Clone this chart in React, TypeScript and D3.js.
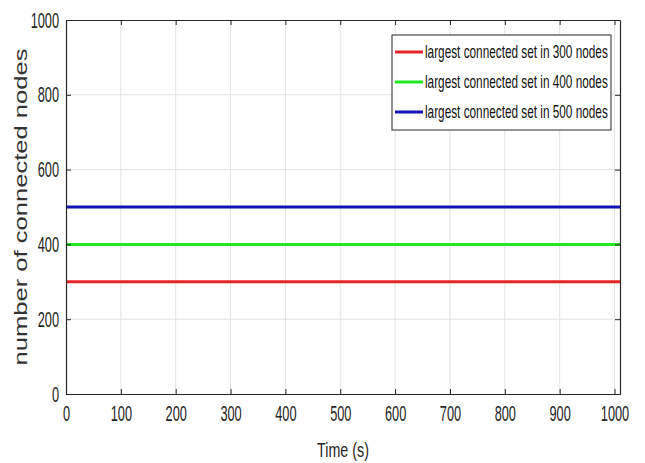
import { useEffect, useRef } from "react";
import * as d3 from "d3";

const times = [0, 1010];
const xTicks = [0, 100, 200, 300, 400, 500, 600, 700, 800, 900, 1000];
const yTicks = [0, 200, 400, 600, 800, 1000];
const seriesNames = [
  "largest connected set in 300 nodes",
  "largest connected set in 400 nodes",
  "largest connected set in 500 nodes",
];
const seriesValues = [300, 400, 500];
const seriesColors = ["#e8242a", "#22e822", "#1414b4"];

const FONT = "'Liberation Sans', Arial, sans-serif";
const SQ = 0.58; // the picture is narrow: squeeze text horizontally

const App = () => {
  const ref = useRef<SVGSVGElement | null>(null);

  useEffect(() => {
    if (!ref.current) return;
    const width = 645;
    const height = 463;
    const margin = { top: 20, right: 25, bottom: 69, left: 66 };

    const svg = d3.select(ref.current);
    svg.selectAll("*").remove();

    const x = d3
      .scaleLinear()
      .domain([times[0], times[1]])
      .range([margin.left, width - margin.right]);
    const y = d3
      .scaleLinear()
      .domain([0, 1000])
      .range([height - margin.bottom, margin.top]);

    svg.append("rect").attr("width", width).attr("height", height).attr("fill", "white");

    // grid
    const grid = svg.append("g").attr("stroke", "#e3e3e3").attr("stroke-width", 1);
    xTicks.slice(1).forEach((t) => {
      grid.append("line").attr("x1", x(t)).attr("x2", x(t)).attr("y1", y(0)).attr("y2", y(1000));
    });
    yTicks.slice(1, -1).forEach((t) => {
      grid.append("line").attr("x1", x(0)).attr("x2", x(1010)).attr("y1", y(t)).attr("y2", y(t));
    });

    // lines
    seriesValues.forEach((v, i) => {
      const line = d3
        .line<number>()
        .x((d) => x(d))
        .y(() => y(v));
      svg
        .append("path")
        .attr("d", line(times))
        .attr("fill", "none")
        .attr("stroke", seriesColors[i])
        .attr("stroke-width", 3);
    });

    // axes box
    const axisColor = "#262626";
    const fmt = d3.format("d");
    const bottom = svg
      .append("g")
      .attr("transform", `translate(0,${y(0)})`)
      .call(d3.axisBottom(x).tickValues(xTicks).tickFormat(fmt).tickSizeInner(-5).tickSizeOuter(0).tickPadding(11));
    const top = svg
      .append("g")
      .attr("transform", `translate(0,${y(1000)})`)
      .call(d3.axisTop(x).tickValues(xTicks).tickSizeInner(-5).tickSizeOuter(0).tickFormat(() => ""));
    const left = svg
      .append("g")
      .attr("transform", `translate(${x(0)},0)`)
      .call(d3.axisLeft(y).tickValues(yTicks).tickFormat(fmt).tickSizeInner(-5).tickSizeOuter(0).tickPadding(7));
    const right = svg
      .append("g")
      .attr("transform", `translate(${x(1010)},0)`)
      .call(d3.axisRight(y).tickValues(yTicks).tickSizeInner(-5).tickSizeOuter(0).tickFormat(() => ""));

    [bottom, top, left, right].forEach((g) => {
      g.selectAll("path,line").attr("stroke", axisColor);
      g.select(".domain").attr("stroke-width", 1.2);
      g.selectAll("text")
        .attr("fill", axisColor)
        .attr("font-family", FONT)
        .attr("font-size", 22);
    });
    bottom.selectAll("text").attr("transform", `scale(${SQ},1)`);
    left
      .selectAll("text")
      .attr("x", -7 / SQ)
      .attr("transform", `scale(${SQ},1)`);

    // axis labels
    svg
      .append("g")
      .attr("transform", `translate(${(x(0) + x(1010)) / 2},${height - 6}) scale(0.68,1)`)
      .append("text")
      .attr("text-anchor", "middle")
      .attr("font-family", FONT)
      .attr("font-size", 21)
      .attr("fill", axisColor)
      .text("Time (s)");

    svg
      .append("text")
      .attr("transform", `translate(27,${(y(0) + y(1000)) / 2}) rotate(-90)`)
      .attr("text-anchor", "middle")
      .attr("font-family", FONT)
      .attr("font-size", 18)
      .attr("fill", "#333")
      .attr("textLength", 317)
      .attr("lengthAdjust", "spacingAndGlyphs")
      .text("number of connected nodes");

    // legend
    const lx = 392;
    const ly = 35;
    const legend = svg.append("g");
    legend
      .append("rect")
      .attr("x", lx)
      .attr("y", ly)
      .attr("width", 219)
      .attr("height", 95)
      .attr("fill", "white")
      .attr("stroke", axisColor)
      .attr("stroke-width", 1);
    seriesNames.forEach((name, i) => {
      const cy = ly + 17 + i * 30;
      legend
        .append("line")
        .attr("x1", lx + 3)
        .attr("x2", lx + 31)
        .attr("y1", cy)
        .attr("y2", cy)
        .attr("stroke", seriesColors[i])
        .attr("stroke-width", 3);
      const label = legend
        .append("g")
        .attr("transform", `translate(${lx + 33},${cy})`);
      const txt = label
        .append("text")
        .attr("dy", "0.35em")
        .attr("font-family", FONT)
        .attr("font-size", 17.5)
        .attr("fill", "#111")
        .text(name);
      const w = (txt.node() as SVGTextElement).getComputedTextLength();
      label.attr("transform", `translate(${lx + 33},${cy}) scale(${183 / w},1)`);
    });
  }, []);

  return <svg ref={ref} width={645} height={463} style={{ position: "absolute", left: 0, top: 0 }} />;
};

export default App;
